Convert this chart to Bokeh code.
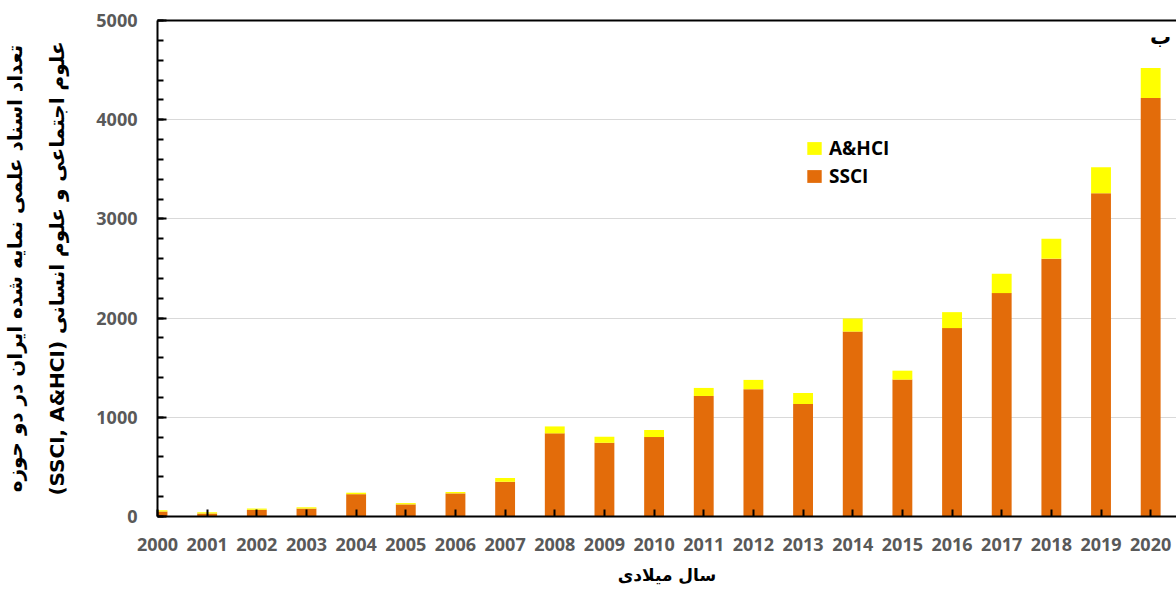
from bokeh.plotting import figure
from bokeh.models import Range1d, LinearAxis, Legend, LegendItem, Label, FixedTicker, ColumnDataSource
from bokeh.embed import file_html
from bokeh.resources import INLINE

years = list(range(2000, 2021))
ssci = [50, 30, 67, 80, 225, 122, 233, 350, 838, 743, 801, 1215, 1283, 1134, 1864, 1380, 1899, 2252, 2599, 3258, 4220]
total = [62, 42, 80, 93, 240, 135, 247, 388, 908, 804, 872, 1296, 1377, 1245, 1996, 1470, 2060, 2447, 2801, 3521, 4520]
ahci = [t - s for t, s in zip(total, ssci)]
y_label = "تعداد اسناد علمی نمایه شده ایران در دو حوزه\n(SSCI, A&HCI) علوم اجتماعی و علوم انسانی"
x_label = "سال میلادی"
panel_letter = "ب"

ORANGE = "#E36C0A"
YELLOW = "#FFFF00"

src = ColumnDataSource(dict(year=years, ssci=ssci, ahci=ahci))

p = figure(width=1176, height=589, output_backend="svg", toolbar_location=None,
           x_range=Range1d(2000, 2020.52), y_range=Range1d(0, 5000),
           min_border_left=154, min_border_right=0, min_border_top=20, min_border_bottom=73)

r = p.vbar_stack(["ssci", "ahci"], x="year", width=0.4, color=[ORANGE, YELLOW],
                 line_color=None, source=src)

p.outline_line_color = None
p.background_fill_color = "white"

# axes
p.xaxis.ticker = FixedTicker(ticks=years)
p.yaxis.ticker = FixedTicker(ticks=[0, 1000, 2000, 3000, 4000, 5000],
                             minor_ticks=list(range(0, 5001, 200)))
for ax in (p.xaxis[0], p.yaxis[0]):
    ax.axis_line_color = "black"
    ax.axis_line_width = 2
    ax.major_tick_line_color = "black"
    ax.major_tick_line_width = 2
    ax.major_tick_out = 0
    ax.major_label_text_font = "Open Sans"
    ax.major_label_text_font_style = "bold"
    ax.major_label_text_color = "#595959"
    ax.major_label_text_font_size = "18px"
    ax.axis_label_text_font = "DejaVu Sans"
    ax.axis_label_text_font_style = "bold"
    ax.axis_label_text_color = "black"

p.xaxis.major_tick_in = 7
p.xaxis.minor_tick_line_color = None
p.xaxis.major_label_standoff = 21
p.xaxis.axis_label = x_label
p.xaxis.axis_label_text_font_size = "17px"
p.xaxis.axis_label_standoff = 11

p.yaxis.major_tick_in = 9
p.yaxis.minor_tick_in = 6
p.yaxis.minor_tick_out = 0
p.yaxis.minor_tick_line_color = "black"
p.yaxis.minor_tick_line_width = 2
p.yaxis.major_label_standoff = 20
p.yaxis.axis_label = y_label
p.yaxis.axis_label_text_font_size = "20px"
p.yaxis.axis_label_text_line_height = 1.75
p.yaxis.axis_label_standoff = 24

top_axis = LinearAxis(ticker=FixedTicker(ticks=[]), axis_line_color="black", axis_line_width=2,
                      major_tick_line_color=None, minor_tick_line_color=None,
                      major_label_text_font_size="0px")
p.add_layout(top_axis, "above")

p.xgrid.grid_line_color = None
p.ygrid.grid_line_color = "#d9d9d9"
p.ygrid.grid_line_width = 1

legend = Legend(items=[LegendItem(label="A&HCI", renderers=[r[1]]),
                       LegendItem(label="SSCI", renderers=[r[0]])],
                location=(648, 327), orientation="vertical",
                glyph_width=18, glyph_height=16, label_height=16, spacing=2,
                padding=0, margin=0, border_line_color=None, background_fill_alpha=0,
                label_text_font="Open Sans", label_text_font_style="bold",
                label_text_font_size="19px", label_text_color="black", label_standoff=6)
p.add_layout(legend, "center")

p.add_layout(Label(x=2020.2, y=4830, text=panel_letter, text_font="DejaVu Sans",
                   text_font_style="bold", text_font_size="21px", text_align="center",
                   text_baseline="middle", text_color="black"))

open("out.html", "w").write(file_html(p, INLINE))
